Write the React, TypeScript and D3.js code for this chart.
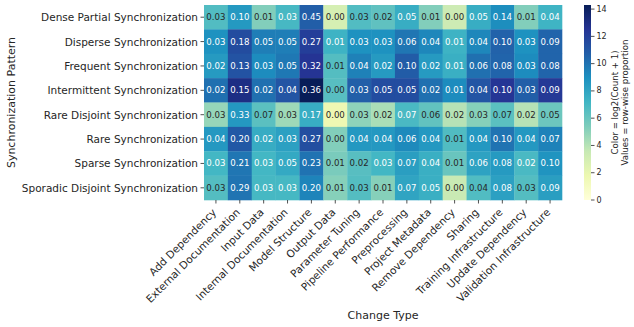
import React from "react";
import * as d3 from "d3";

const rows = [
  "Dense Partial Synchronization",
  "Disperse Synchronization",
  "Frequent Synchronization",
  "Intermittent Synchronization",
  "Rare Disjoint Synchronization",
  "Rare Synchronization",
  "Sparse Synchronization",
  "Sporadic Disjoint Synchronization",
];

const cols = [
  "Add Dependency",
  "External Documentation",
  "Input Data",
  "Internal Documentation",
  "Model Structure",
  "Output Data",
  "Parameter Tuning",
  "Pipeline Performance",
  "Preprocessing",
  "Project Metadata",
  "Remove Dependency",
  "Sharing",
  "Training Infrastructure",
  "Update Dependency",
  "Validation Infrastructure",
];

// row-wise proportions (annotations)
const proportions = [
  [0.03, 0.10, 0.01, 0.03, 0.45, 0.00, 0.03, 0.02, 0.05, 0.01, 0.00, 0.05, 0.14, 0.01, 0.04],
  [0.03, 0.18, 0.05, 0.05, 0.27, 0.01, 0.03, 0.03, 0.06, 0.04, 0.01, 0.04, 0.10, 0.03, 0.09],
  [0.02, 0.13, 0.03, 0.05, 0.32, 0.01, 0.04, 0.02, 0.10, 0.02, 0.01, 0.06, 0.08, 0.03, 0.08],
  [0.02, 0.15, 0.02, 0.04, 0.36, 0.00, 0.03, 0.05, 0.05, 0.02, 0.01, 0.04, 0.10, 0.03, 0.09],
  [0.03, 0.33, 0.07, 0.03, 0.17, 0.00, 0.03, 0.02, 0.07, 0.06, 0.02, 0.03, 0.07, 0.02, 0.05],
  [0.04, 0.20, 0.02, 0.03, 0.27, 0.00, 0.04, 0.04, 0.06, 0.04, 0.01, 0.04, 0.10, 0.04, 0.07],
  [0.03, 0.21, 0.03, 0.05, 0.23, 0.01, 0.02, 0.03, 0.07, 0.04, 0.01, 0.06, 0.08, 0.02, 0.10],
  [0.03, 0.29, 0.03, 0.03, 0.20, 0.01, 0.03, 0.01, 0.07, 0.05, 0.00, 0.04, 0.08, 0.03, 0.09],
];

// colour values: log2(count + 1)
const logCounts = [
  [6.66, 8.57, 5.28, 6.98, 10.74, 2.9, 6.66, 6.26, 7.58, 5.28, 3.3, 7.58, 9.06, 5.28, 7.26],
  [8.9, 11.5, 9.6, 9.6, 12.08, 7.3, 8.9, 8.9, 9.9, 9.3, 7.3, 9.3, 10.6, 8.9, 10.5],
  [8.5, 11.2, 9.1, 9.8, 12.5, 6.6, 9.5, 8.5, 10.8, 8.5, 7.5, 10.1, 10.5, 9.1, 10.5],
  [10.1, 13.0, 10.1, 11.1, 14.3, 6.5, 10.7, 11.45, 11.45, 10.1, 9.1, 11.1, 12.45, 10.7, 12.3],
  [4.8, 8.6, 6.4, 4.6, 7.6, 1.7, 5.0, 4.3, 6.9, 6.2, 4.0, 5.2, 6.4, 4.0, 5.9],
  [8.6, 11.0, 7.65, 8.2, 11.4, 5.3, 8.6, 8.6, 9.2, 8.6, 6.7, 8.6, 10.0, 8.6, 9.45],
  [7.1, 9.9, 7.1, 7.8, 10.0, 5.5, 6.5, 7.1, 8.3, 7.5, 6.0, 8.1, 8.5, 6.9, 8.8],
  [6.6, 9.95, 7.0, 7.0, 9.4, 5.2, 6.6, 5.2, 8.0, 7.5, 3.5, 6.7, 8.2, 6.6, 8.3],
];

const colorbarTicks = [0, 2, 4, 6, 8, 10, 12, 14];

const ylgnbu = ["#ffffd9", "#edf8b1", "#c7e9b4", "#7fcdbb", "#41b6c4", "#1d91c0", "#225ea8", "#253494", "#081d58"];

const FONT = "DejaVu Sans, Verdana, sans-serif";
const TXT = "#262626";

function luminance(c: string) {
  const r = d3.rgb(c);
  const f = (v: number) => {
    const s = v / 255;
    return s <= 0.03928 ? s / 12.92 : Math.pow((s + 0.055) / 1.055, 2.4);
  };
  return 0.2126 * f(r.r) + 0.7152 * f(r.g) + 0.0722 * f(r.b);
}

export default function App() {
  const W = 634, H = 327;
  const hmLeft = 204, hmRight = 562, hmTop = 5, hmBottom = 200;
  const x = d3.scaleBand<string>().domain(cols).range([hmLeft, hmRight]);
  const y = d3.scaleBand<string>().domain(rows).range([hmTop, hmBottom]);
  const vmax = d3.max(logCounts.flat()) as number;
  const color = d3
    .scaleLinear<string>()
    .domain(ylgnbu.map((_, i) => (i * vmax) / (ylgnbu.length - 1)))
    .range(ylgnbu)
    .interpolate(d3.interpolateRgb);

  const cbLeft = 584, cbW = 7;
  const cy = d3.scaleLinear().domain([0, vmax]).range([hmBottom, hmTop]);

  return (
    <div style={{ position: "absolute", left: 0, top: 0 }}>
      <svg width={W} height={H} style={{ display: "block", background: "white" }} fontFamily={FONT}>
        <defs>
          <linearGradient id="cbgrad" x1="0" y1="1" x2="0" y2="0">
            {ylgnbu.map((c, i) => (
              <stop key={i} offset={i / (ylgnbu.length - 1)} stopColor={c} />
            ))}
          </linearGradient>
        </defs>

        {rows.map((r, i) =>
          cols.map((c, j) => {
            const fill = color(logCounts[i][j]);
            const tc = luminance(fill) > 0.408 ? TXT : "#ffffff";
            return (
              <g key={`${i}-${j}`}>
                <rect x={x(c)} y={y(r)} width={x.bandwidth() + 0.3} height={y.bandwidth() + 0.3} fill={fill} />
                <text
                  x={(x(c) as number) + x.bandwidth() / 2}
                  y={(y(r) as number) + y.bandwidth() / 2}
                  textAnchor="middle"
                  dominantBaseline="central"
                  fontSize={8.6}
                  fill={tc}
                >
                  {proportions[i][j].toFixed(2)}
                </text>
              </g>
            );
          })
        )}

        {/* y axis */}
        {rows.map((r) => {
          const yc = (y(r) as number) + y.bandwidth() / 2;
          return (
            <g key={r}>
              <line x1={hmLeft - 3.5} x2={hmLeft} y1={yc} y2={yc} stroke={TXT} strokeWidth={0.8} />
              <text x={hmLeft - 6} y={yc} textAnchor="end" dominantBaseline="central" fontSize={10.5} fill={TXT}>
                {r}
              </text>
            </g>
          );
        })}
        <text
          transform={`translate(11,${(hmTop + hmBottom) / 2}) rotate(-90)`}
          textAnchor="middle"
          dominantBaseline="central"
          fontSize={11}
          fill={TXT}
        >
          Synchronization Pattern
        </text>

        {/* x axis */}
        {cols.map((c) => {
          const xc = (x(c) as number) + x.bandwidth() / 2;
          return (
            <g key={c}>
              <line x1={xc} x2={xc} y1={hmBottom} y2={hmBottom + 3.5} stroke={TXT} strokeWidth={0.8} />
              <text
                transform={`translate(${xc + 1},${hmBottom + 13}) rotate(-45)`}
                textAnchor="end"
                fontSize={10.5}
                fill={TXT}
              >
                {c}
              </text>
            </g>
          );
        })}
        <text x={(hmLeft + hmRight) / 2} y={319} textAnchor="middle" fontSize={11} fill={TXT}>
          Change Type
        </text>

        {/* colorbar */}
        <rect x={cbLeft} y={hmTop} width={cbW} height={hmBottom - hmTop} fill="url(#cbgrad)" />
        {colorbarTicks.map((t) => (
          <g key={t}>
            <line x1={cbLeft + cbW} x2={cbLeft + cbW + 3.5} y1={cy(t)} y2={cy(t)} stroke={TXT} strokeWidth={0.8} />
            <text x={cbLeft + cbW + 5.5} y={cy(t)} dominantBaseline="central" fontSize={8} fill={TXT}>
              {t}
            </text>
          </g>
        ))}
        <text
          transform={`translate(623,${(hmTop + hmBottom) / 2}) rotate(-90)`}
          textAnchor="middle"
          fontSize={8.6}
          fill={TXT}
        >
          <tspan x={0} dy={-5.5}>Color = log2(Count + 1)</tspan>
          <tspan x={0} dy={10.5}>Values = row-wise proportion</tspan>
        </text>
      </svg>
    </div>
  );
}
